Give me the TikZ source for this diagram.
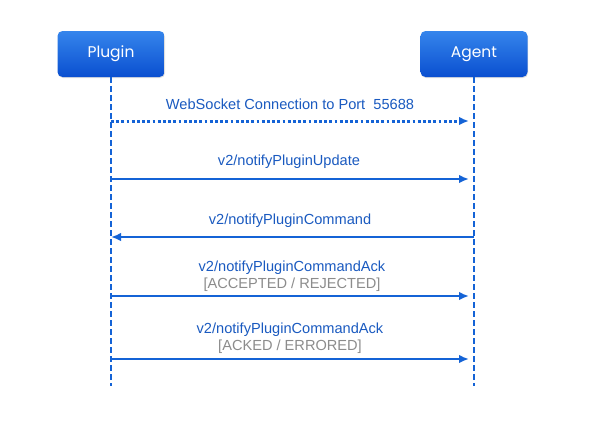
\documentclass[tikz,border=0pt]{standalone}
\usepackage{fontspec}
\setmainfont{Liberation Sans}
\newfontfamily\boxfont{Poppins}
\usetikzlibrary{arrows.meta,shadows}
\definecolor{lineblue}{HTML}{1463D6}
\definecolor{txtblue}{HTML}{1A5AC0}
\definecolor{boxtop}{HTML}{3585EC}
\definecolor{boxbot}{HTML}{0A4FD0}
\definecolor{subgray}{HTML}{8C8C8C}
\tikzset{
  actor/.style={rounded corners=5pt, top color=boxtop, bottom color=boxbot, draw=none,
    minimum width=107pt, minimum height=46pt, text=white, font=\boxfont\fontsize{15.5}{17}\selectfont,
    drop shadow={shadow xshift=0.6pt, shadow yshift=-1pt, opacity=0.25}},
  life/.style={draw=lineblue, line width=2pt, dash pattern=on 6pt off 3pt},
  msg/.style={draw=lineblue, line width=2.6pt, -{Latex[length=10pt,width=8.5pt]}},
  dotmsg/.style={draw=lineblue, line width=3pt, dash pattern=on 2.8pt off 2.4pt, -{Latex[length=10pt,width=8.5pt]}},
  lbl/.style={text=txtblue, font=\fontsize{14.6}{16}\selectfont, inner sep=0pt},
  sub/.style={text=subgray, font=\fontsize{14.6}{16}\selectfont, inner sep=0pt},
}
\begin{document}
\begin{tikzpicture}[x=1pt,y=-1pt]
\useasboundingbox[fill=white] (0,0) rectangle (592,442);
\node[actor] (plugin) at (111,54) {Plugin};
\node[actor] (agent) at (474,54) {Agent};
\coordinate (pe) at (111,386);
\coordinate (ae) at (474,386);
\draw[life] (plugin.south) -- (pe);
\draw[life] (agent.south) -- (ae);
% messages
\coordinate (p1) at (111,121); \coordinate (a1) at (469,121);
\coordinate (p2) at (111,179); \coordinate (a2) at (469,179);
\coordinate (p3) at (111,237); \coordinate (a3) at (474,237);
\coordinate (p4) at (111,296); \coordinate (a4) at (469,296);
\coordinate (p5) at (111,359); \coordinate (a5) at (469,359);
\draw[dotmsg] (p1) -- (a1);
\draw[msg] (p2) -- (a2);
\draw[msg] (a3) -- (p3);
\draw[msg] (p4) -- (a4);
\draw[msg] (p5) -- (a5);
\node[lbl] (l1) at (290,104) {WebSocket Connection to Port\ \ 55688};
\node[lbl] (l2) at (289,162) {v2/notifyPluginUpdate};
\node[lbl] (l3) at (290,221) {v2/notifyPluginCommand};
\node[lbl] (l4) at (292,268) {v2/notifyPluginCommandAck};
\node[sub] (s4) at (292,285) {[ACCEPTED / REJECTED]};
\node[lbl] (l5) at (290,330) {v2/notifyPluginCommandAck};
\node[sub] (s5) at (290,347) {[ACKED / ERRORED]};
\end{tikzpicture}
\end{document}
